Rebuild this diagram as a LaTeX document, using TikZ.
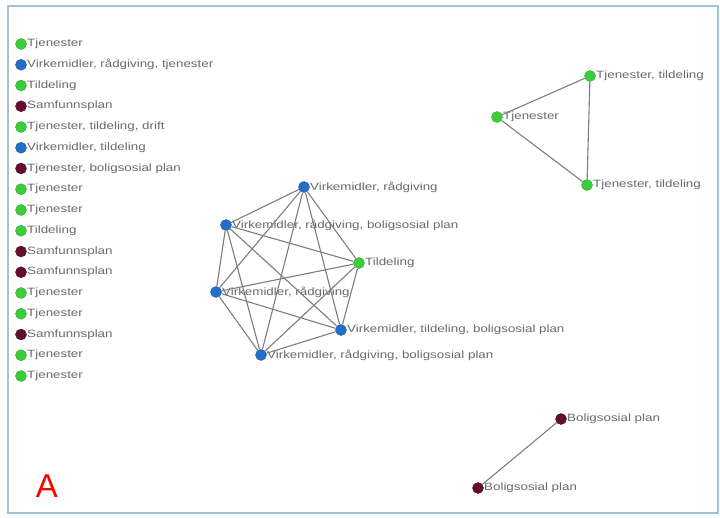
\documentclass[tikz,border=0pt]{standalone}
\usepackage{fontspec}
\setmainfont[FakeStretch=1.26]{Liberation Sans}
\newfontfamily\plainfont{Liberation Sans}
\usepackage{tikz}
\usetikzlibrary{positioning}

\definecolor{grn}{RGB}{60,205,60}
\definecolor{blu}{RGB}{35,110,200}
\definecolor{mrn}{RGB}{100,15,50}
\definecolor{txt}{RGB}{105,105,105}
\definecolor{edg}{RGB}{125,125,125}
\definecolor{frm}{RGB}{160,195,215}

\begin{document}
\begin{tikzpicture}[x=1pt, y=-1pt, font=\fontsize{10.6}{12}\selectfont, node distance={20.75pt},
    main/.style = {circle, inner sep=0pt, minimum size=11pt},
    grnode/.style = {main, fill=grn, draw=grn!80!black},
    blnode/.style = {main, fill=blu, draw=blu!80!black},
    mrnode/.style = {main, fill=mrn, draw=mrn!80!black},
    every label/.style = {text=txt, inner sep=0.3pt},
    link/.style = {draw=edg, line width=1.1pt}]
                \useasboundingbox (0,0) rectangle (720,517);
                \draw[frm, line width=1.3pt] (8,6) rectangle (718,513);
                % list on the left
                \node[grnode, label=right:Tjenester] (l0) at (21,44) {};
                \node[blnode, label=right:{Virkemidler, rådgiving, tjenester}] (l1) [below of=l0] {};
                \node[grnode, label=right:Tildeling] (l2) [below of=l1] {};
                \node[mrnode, label=right:Samfunnsplan] (l3) [below of=l2] {};
                \node[grnode, label=right:{Tjenester, tildeling, drift}] (l4) [below of=l3] {};
                \node[blnode, label=right:{Virkemidler, tildeling}] (l5) [below of=l4] {};
                \node[mrnode, label=right:{Tjenester, boligsosial plan}] (l6) [below of=l5] {};
                \node[grnode, label=right:Tjenester] (l7) [below of=l6] {};
                \node[grnode, label=right:Tjenester] (l8) [below of=l7] {};
                \node[grnode, label=right:Tildeling] (l9) [below of=l8] {};
                \node[mrnode, label=right:Samfunnsplan] (l10) [below of=l9] {};
                \node[mrnode, label=right:Samfunnsplan] (l11) [below of=l10] {};
                \node[grnode, label=right:Tjenester] (l12) [below of=l11] {};
                \node[grnode, label=right:Tjenester] (l13) [below of=l12] {};
                \node[mrnode, label=right:Samfunnsplan] (l14) [below of=l13] {};
                \node[grnode, label=right:Tjenester] (l15) [below of=l14] {};
                \node[grnode, label=right:Tjenester] (l16) [below of=l15] {};
                % cluster in the middle
                \node[blnode, label=right:{Virkemidler, rådgiving}] (c0) at (304,187) {};
                \node[blnode, label=right:{Virkemidler, rådgiving, boligsosial plan}] (c1) at (226,225) {};
                \node[grnode, label=right:Tildeling] (c2) at (359,263) {};
                \node[blnode, label=right:{Virkemidler, rådgiving}] (c3) at (216,292) {};
                \node[blnode, label=right:{Virkemidler, tildeling, boligsosial plan}] (c4) at (341,330) {};
                \node[blnode, label=right:{Virkemidler, rådgiving, boligsosial plan}] (c5) at (261,355) {};
                \draw[link] (c0) -- (c1);
                \draw[link] (c0) -- (c2);
                \draw[link] (c0) -- (c3);
                \draw[link] (c0) -- (c4);
                \draw[link] (c0) -- (c5);
                \draw[link] (c1) -- (c2);
                \draw[link] (c1) -- (c3);
                \draw[link] (c1) -- (c4);
                \draw[link] (c1) -- (c5);
                \draw[link] (c2) -- (c3);
                \draw[link] (c2) -- (c4);
                \draw[link] (c2) -- (c5);
                \draw[link] (c3) -- (c4);
                \draw[link] (c3) -- (c5);
                \draw[link] (c4) -- (c5);
                % triangle
                \node[grnode, label=right:Tjenester] (t0) at (497,117) {};
                \node[grnode, label=right:{Tjenester, tildeling}] (t1) at (590,76) {};
                \node[grnode, label=right:{Tjenester, tildeling}] (t2) at (587,185) {};
                \draw[link] (t0) -- (t1);
                \draw[link] (t0) -- (t2);
                \draw[link] (t1) -- (t2);
                % pair
                \node[mrnode, label=right:{Boligsosial plan}] (b0) at (561,419) {};
                \node[mrnode, label=right:{Boligsosial plan}] (b1) at (478,488) {};
                \draw[link] (b0) -- (b1);
                \node[text=red, font=\plainfont\fontsize{33}{36}\selectfont] (tag) at (47,486) {A};
            \end{tikzpicture}
\end{document}
